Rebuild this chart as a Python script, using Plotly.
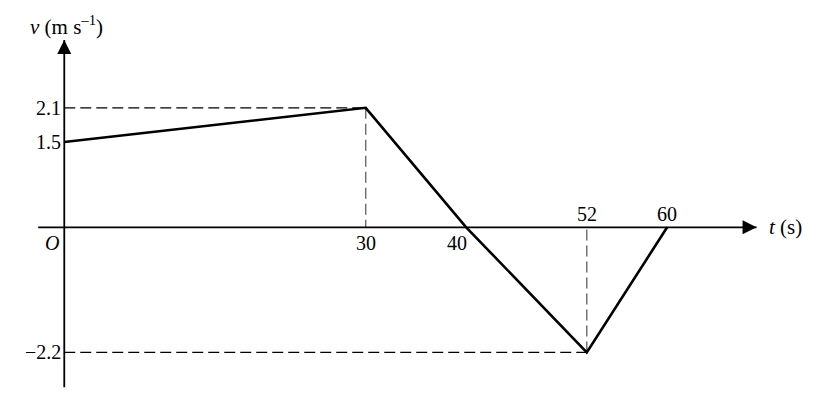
import plotly.graph_objects as go

# Data: velocity-time graph
t_points = [0, 30, 40, 52, 60]
v_points = [1.5, 2.1, 0, -2.2, 0]

# labelled values
t_below = [30, 40]
t_above = [52, 60]
v_ticks = [2.1, 1.5, -2.2]
v_tick_text = ['2.1', '1.5', '\u22122.2']

# guide lines: (t, v) corners
guides = [(30, 2.1), (52, -2.2)]

# axis extents (data units)
t_axis = [-2.6, 68.9]
v_axis = [-2.81, 3.29]

FONT = 'Liberation Serif'
fig = go.Figure()

# dashed guides
for tg, vg in guides:
    fig.add_trace(go.Scatter(x=[0, tg], y=[vg, vg], mode='lines',
                             line=dict(color='black', width=1.2, dash='11px,5px'),
                             hoverinfo='skip', showlegend=False))
    fig.add_trace(go.Scatter(x=[tg, tg], y=[vg, 0], mode='lines',
                             line=dict(color='#6a6a6a', width=1.4, dash='11px,5px'),
                             hoverinfo='skip', showlegend=False))

# axes
fig.add_trace(go.Scatter(x=t_axis, y=[0, 0], mode='lines',
                         line=dict(color='black', width=1.8),
                         hoverinfo='skip', showlegend=False))
fig.add_trace(go.Scatter(x=[0, 0], y=v_axis, mode='lines',
                         line=dict(color='black', width=1.8),
                         hoverinfo='skip', showlegend=False))
# arrow heads
fig.add_trace(go.Scatter(x=[t_axis[1]], y=[0], mode='markers',
                         marker=dict(symbol='arrow-right', size=14, color='black',
                                     line=dict(width=0)),
                         hoverinfo='skip', showlegend=False))
fig.add_trace(go.Scatter(x=[0], y=[v_axis[1]], mode='markers',
                         marker=dict(symbol='arrow-up', size=14, color='black',
                                     line=dict(width=0)),
                         hoverinfo='skip', showlegend=False))

# main graph
fig.add_trace(go.Scatter(x=t_points, y=v_points, mode='lines',
                         line=dict(color='black', width=2.6),
                         hoverinfo='skip', showlegend=False))

font = dict(family=FONT, size=20, color='black')

for tv in t_below:
    shift = -9 if tv == 40 else 0
    fig.add_annotation(x=tv, y=0, text=str(tv), showarrow=False, font=font,
                       yanchor='top', yshift=-3, xshift=shift)
for tv in t_above:
    fig.add_annotation(x=tv, y=0, text=str(tv), showarrow=False, font=font,
                       yanchor='bottom', yshift=0)
for vv, txt in zip(v_ticks, v_tick_text):
    fig.add_annotation(x=0, y=vv, text=txt, showarrow=False, font=font,
                       xanchor='right', xshift=-1)

fig.add_annotation(x=0, y=0, text='<i>O</i>', showarrow=False, font=font,
                   xanchor='right', yanchor='top', xshift=-3, yshift=-3)
fig.add_annotation(x=t_axis[1], y=0, text='<i>t</i> (s)', showarrow=False,
                   font=dict(family=FONT, size=21, color='black'),
                   xanchor='left', xshift=10)
fig.add_annotation(x=0, y=3.55, text='<i>v</i> (m s<sup>\u20131</sup>)', showarrow=False,
                   font=dict(family=FONT, size=21, color='black'),
                   xanchor='center', xshift=2)

fig.update_layout(
    width=834, height=417,
    margin=dict(l=0, r=0, t=0, b=0),
    paper_bgcolor='white', plot_bgcolor='white',
    xaxis=dict(range=[-5.6, 77.4], visible=False, fixedrange=True),
    yaxis=dict(range=[-3.475, 3.854], visible=False, fixedrange=True),
)

fig.write_html("out.html")
